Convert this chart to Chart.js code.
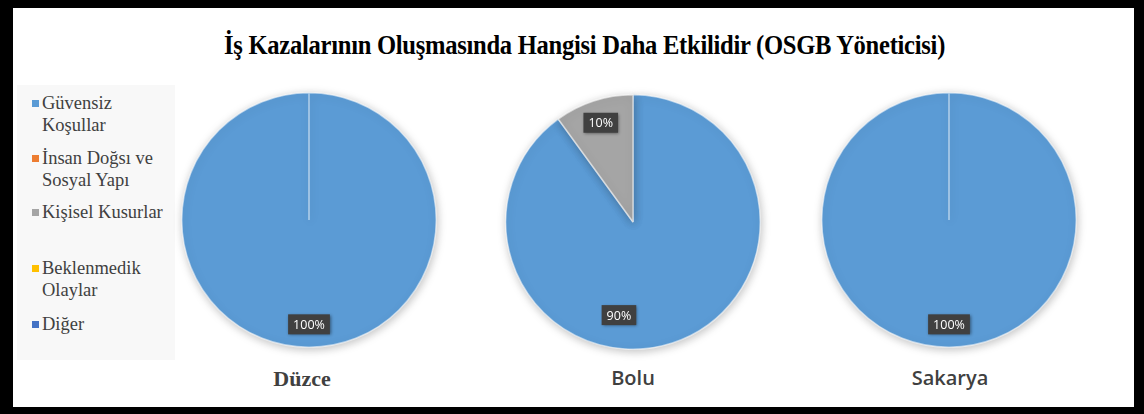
<!DOCTYPE html>
<html>
<head>
<meta charset="utf-8">
<script src="https://cdn.jsdelivr.net/npm/chart.js@4.4.0/dist/chart.umd.min.js"></script>
<style>
  html, body { margin: 0; padding: 0; }
  body { width: 1144px; height: 414px; background: #000; position: relative; overflow: hidden; }
  #kutu { position: absolute; left: 13px; top: 8px; width: 1121px; height: 399px; background: #fff; }
  #baslik { position: absolute; left: 24px; top: 30px; width: 1121px; text-align: center;
    font-family: "Liberation Serif", "DejaVu Serif", serif; font-weight: bold; font-size: 27px;
    letter-spacing: -0.3px; color: #000; transform: scaleX(0.91); transform-origin: 561px 0; }
  #lejant { position: absolute; left: 17px; top: 85px; width: 158px; height: 275px; background: #f8f8f8; }
  #lejant div { position: absolute; left: 25px; font-family: "Liberation Serif", "Times New Roman", serif; font-size: 18.5px;
    line-height: 22px; color: #404040; white-space: nowrap; }
  #lejant span { position: absolute; left: -10px; top: 8px; width: 7px; height: 7px; }
  canvas { position: absolute; }
  .etiket { position: absolute; transform: translateX(-50%); font-size: 20px; color: #404040; white-space: nowrap; }
  .serif { font-family: "Liberation Serif", "Times New Roman", serif; font-weight: bold; font-size: 22px; }
  .sans { font-family: "Open Sans", sans-serif; font-weight: 600; }
</style>
</head>
<body>
<div id="kutu"></div>
<div id="baslik">İş Kazalarının Oluşmasında Hangisi Daha Etkilidir (OSGB Yöneticisi)</div>
<div id="lejant"></div>
<canvas id="pasta0" width="280" height="280" style="left:169px;top:80px"></canvas>
<canvas id="pasta1" width="280" height="280" style="left:493px;top:82px"></canvas>
<canvas id="pasta2" width="280" height="280" style="left:809px;top:80px"></canvas>
<div class="etiket serif" style="left:302px;top:366px;">Düzce</div>
<div class="etiket sans" style="left:633px;top:364px;">Bolu</div>
<div class="etiket sans" style="left:950px;top:364px;">Sakarya</div>
<script>
// Kategoriler ve renkler
const kategoriler = ["Güvensiz Koşullar", "İnsan Doğsı ve Sosyal Yapı", "Kişisel Kusurlar", "Beklenmedik Olaylar", "Diğer"];
const lejantSatirlari = [["Güvensiz", "Koşullar"], ["İnsan Doğsı ve", "Sosyal Yapı"], ["Kişisel Kusurlar"], ["Beklenmedik", "Olaylar"], ["Diğer"]];
const renkler = ["#5B9BD5", "#ED7D31", "#A5A5A5", "#FFC000", "#4472C4"];

// İller ve yüzdeler
const iller = ["Düzce", "Bolu", "Sakarya"];
const duzce = [100, 0, 0, 0, 0];
const bolu = [90, 0, 10, 0, 0];
const sakarya = [100, 0, 0, 0, 0];
const seriler = [duzce, bolu, sakarya];

// Lejant
const lejantTop = [7, 62, 116, 172, 228];
const lejant = document.getElementById("lejant");
lejantSatirlari.forEach((satir, i) => {
    const d = document.createElement("div");
    d.style.top = lejantTop[i] + "px";
    d.innerHTML = `<span style="background:${renkler[i]}"></span>` + satir.join("<br>");
    lejant.appendChild(d);
});

// Gölge eklentisi
const golge = {
    id: "golge",
    beforeDatasetsDraw(chart) {
        const ctx = chart.ctx;
        ctx.save();
        ctx.shadowColor = "rgba(0,0,0,0.25)";
        ctx.shadowBlur = 10;
        ctx.shadowOffsetX = 1;
        ctx.shadowOffsetY = 2;
    },
    afterDatasetsDraw(chart) {
        chart.ctx.restore();
    }
};

// Yüzde etiketleri
const yuzdeEtiket = {
    id: "yuzdeEtiket",
    afterDatasetsDraw(chart) {
        const ctx = chart.ctx;
        const veri = chart.data.datasets[0].data;
        const toplam = veri.reduce((a, b) => a + b, 0);
        chart.getDatasetMeta(0).data.forEach((arc, i) => {
            if (!veri[i]) return;
            const p = arc.getProps(["x", "y", "startAngle", "endAngle", "outerRadius"], true);
            let aci = (p.startAngle + p.endAngle) / 2;
            let r = p.outerRadius * 0.82;
            // alt noktayı kapsayan büyük dilimde etiket alta
            if (p.startAngle <= Math.PI / 2 && p.endAngle >= Math.PI / 2) {
                aci = Math.PI / 2 + 1.5 * (1 - veri[i] / toplam);
                if (veri[i] !== toplam) r = p.outerRadius * 0.74;
            }
            const x = p.x + Math.cos(aci) * r;
            const y = p.y + Math.sin(aci) * r;
            const metin = Math.round(veri[i] / toplam * 100) + "%";
            ctx.save();
            ctx.font = "12.5px 'Open Sans', sans-serif";
            const w = ctx.measureText(metin).width + 10;
            const h = 20;
            ctx.shadowColor = "rgba(0,0,0,0.45)";
            ctx.shadowBlur = 3;
            ctx.shadowOffsetX = 1;
            ctx.shadowOffsetY = 1;
            ctx.fillStyle = "#404040";
            ctx.fillRect(x - w / 2, y - h / 2, w, h);
            ctx.shadowColor = "transparent";
            ctx.fillStyle = "#fff";
            ctx.textAlign = "center";
            ctx.textBaseline = "middle";
            ctx.fillText(metin, x, y + 1);
            ctx.restore();
        });
    }
};

seriler.forEach((seri, k) => {
    const ctx = document.getElementById("pasta" + k).getContext("2d");
    new Chart(ctx, {
        type: "pie",
        data: {
            labels: kategoriler,
            datasets: [{
                label: iller[k],
                data: seri,
                backgroundColor: renkler,
                borderColor: "rgba(255,255,255,0.55)",
                borderWidth: seri.map(v => v ? 1.5 : 0)
            }]
        },
        options: {
            responsive: false,
            animation: false,
            layout: { padding: 12 },
            plugins: {
                legend: { display: false },
                tooltip: { enabled: false }
            }
        },
        plugins: [golge, yuzdeEtiket]
    });
});
</script>
</body>
</html>
